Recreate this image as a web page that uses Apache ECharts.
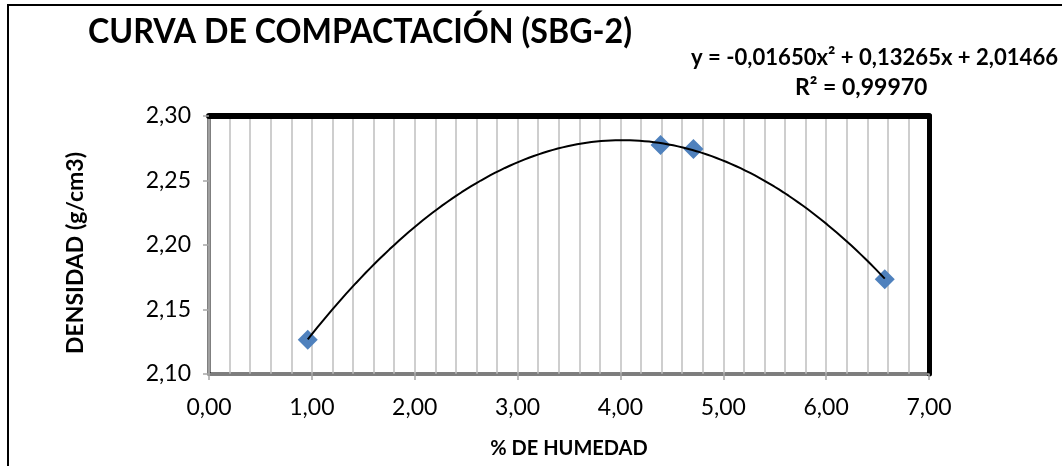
<!DOCTYPE html>
<html>
<head>
<meta charset="utf-8">
<script src="https://cdn.jsdelivr.net/npm/echarts@6/dist/echarts.min.js"></script>
<style>
  html, body { margin: 0; padding: 0; background: #fff; }
  #chart { width: 1062px; height: 466px; }
</style>
</head>
<body>
<div id="chart"></div>
<script>
// Ensayo Proctor: humedad (%) vs densidad seca (g/cm3)
const humedad = [0.96, 4.39, 4.71, 6.57];
const densidad = [2.1265, 2.2775, 2.2745, 2.1735];

// Coeficientes de la línea de tendencia polinómica (orden 2): a·x² + b·x + c
const tendencia = [-0.01650, 0.13265, 2.01466];
const r2 = '0,99970';

const xTicks = { min: 0, max: 7, interval: 1 };
const yTicks = { min: 2.10, max: 2.30, interval: 0.05 };

const FONT = 'Lato';
const fmt = v => v.toFixed(2).replace('.', ',');
const coef = v => v.toFixed(5).replace('.', ',');

// Puntos de la curva de tendencia entre la primera y la última muestra
const curva = [];
const x0 = humedad[0], x1 = humedad[humedad.length - 1];
const pasos = 120;
for (let i = 0; i <= pasos; i++) {
  const x = x0 + (x1 - x0) * i / pasos;
  curva.push([x, tendencia[0] * x * x + tendencia[1] * x + tendencia[2]]);
}

const ecuacion = 'y = ' + coef(tendencia[0]) + 'x² + ' + coef(tendencia[1]) + 'x + ' + coef(tendencia[2]);

const chart = echarts.init(document.getElementById('chart'), null, { renderer: 'canvas' });

chart.setOption({
  animation: false,
  backgroundColor: '#fff',
  grid: {
    left: 209, right: 133, top: 116, bottom: 92,
    outerBoundsMode: 'none', containLabel: false,
    show: true, borderColor: '#000', borderWidth: 3, backgroundColor: 'transparent'
  },
  graphic: [
    { type: 'rect', shape: { x: 8, y: 5, width: 1100, height: 500 }, style: { fill: 'none', stroke: '#000', lineWidth: 2 }, silent: true, z: -1 },
    { type: 'text', x: 88, y: 14, scaleX: 0.92, style: { text: 'CURVA DE COMPACTACIÓN (SBG-2)', font: 'bold 35px ' + FONT, fill: '#000' } },
    { type: 'text', x: 1058, y: 46, scaleX: 0.96, style: { text: ecuacion, font: 'bold 23px ' + FONT, fill: '#000', align: 'right' } },
    { type: 'text', x: 795, y: 76, style: { text: 'R² = ' + r2, font: 'bold 23px ' + FONT, fill: '#000' } }
  ],
  xAxis: [{
    type: 'value', min: xTicks.min, max: xTicks.max, interval: xTicks.interval,
    name: '% DE HUMEDAD', nameLocation: 'middle', nameGap: 65,
    nameTextStyle: { fontFamily: FONT, fontWeight: 'bold', fontSize: 20, color: '#000' },
    axisLine: { show: true, onZero: false, lineStyle: { color: '#a6a6a6', width: 1.5 } },
    axisTick: { show: true, length: 6, lineStyle: { color: '#a6a6a6', width: 1.5 } },
    axisLabel: { formatter: fmt, fontFamily: FONT, fontSize: 23, color: '#000', margin: 22 },
    splitLine: { show: true, lineStyle: { color: '#bfbfbf', width: 1.5 } },
    minorTick: { show: false, splitNumber: 5 },
    minorSplitLine: { show: true, lineStyle: { color: '#bfbfbf', width: 1.5 } }
  }, {
    type: 'value', position: 'top', min: xTicks.min, max: xTicks.max,
    axisLine: { show: true, onZero: false, lineStyle: { color: '#000', width: 6 } },
    axisTick: { show: false }, axisLabel: { show: false }, splitLine: { show: false }
  }],
  yAxis: [{
    type: 'value', min: yTicks.min, max: yTicks.max, interval: yTicks.interval,
    name: 'DENSIDAD (g/cm3)', nameLocation: 'middle', nameGap: 122,
    nameTextStyle: { fontFamily: FONT, fontWeight: 'bold', fontSize: 23, color: '#000', padding: [0, 16, 0, 0] },
    axisLine: { show: true, onZero: false, lineStyle: { color: '#a6a6a6', width: 1.5 } },
    axisTick: { show: true, length: 6, lineStyle: { color: '#a6a6a6', width: 1.5 } },
    axisLabel: { formatter: fmt, fontFamily: FONT, fontSize: 23, color: '#000', margin: 18 },
    splitLine: { show: false }
  }, {
    type: 'value', position: 'right', min: yTicks.min, max: yTicks.max,
    axisLine: { show: true, onZero: false, lineStyle: { color: '#000', width: 5 } },
    axisTick: { show: false }, axisLabel: { show: false }, splitLine: { show: false }
  }],
  series: [{
    type: 'scatter', xAxisIndex: 0, yAxisIndex: 0,
    data: humedad.map((x, i) => [x, densidad[i]]),
    symbol: 'diamond', symbolSize: 20,
    itemStyle: { color: '#4f81bd', opacity: 1 }, z: 3
  }, {
    type: 'line', xAxisIndex: 0, yAxisIndex: 0,
    data: curva, showSymbol: false, symbol: 'none',
    lineStyle: { color: '#000', width: 2 }, z: 4
  }]
});
</script>
</body>
</html>
